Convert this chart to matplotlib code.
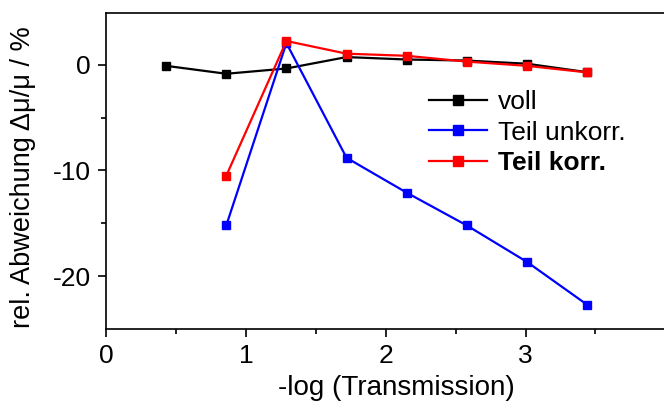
import numpy as np
import matplotlib.pyplot as plt

plt.rcParams['font.family'] = ['Liberation Sans', 'DejaVu Sans']
plt.rcParams['axes.unicode_minus'] = False

# -log(Transmission)
x_voll = [0.43, 0.86, 1.29, 1.72, 2.15, 2.58, 3.01, 3.44]
y_voll = [-0.1, -0.85, -0.35, 0.73, 0.5, 0.4, 0.1, -0.7]

x_teil = [0.86, 1.29, 1.72, 2.15, 2.58, 3.01, 3.44]
y_unkorr = [-15.2, 2.05, -8.8, -12.1, -15.2, -18.65, -22.7]
y_korr = [-10.5, 2.25, 1.05, 0.85, 0.3, -0.1, -0.72]

fig = plt.figure(figsize=(6.64, 4.12), dpi=100)
ax = fig.add_axes([106/664, 83/412, 558/664, 316/412])

ax.plot(x_voll, y_voll, color='black', marker='s', ms=5.5, lw=1.6, label='voll')
ax.plot(x_teil, y_unkorr, color='blue', marker='s', ms=5.5, lw=1.6, label='Teil unkorr.')
ax.plot(x_teil, y_korr, color='red', marker='s', ms=5.5, lw=1.6, label='Teil korr.')

ax.set_xlim(0, 3.99)
ax.set_ylim(-25, 4.9)
ax.set_xticks([0, 1, 2, 3])
ax.set_xticks([0.5, 1.5, 2.5, 3.5], minor=True)
ax.set_yticks([-20, -10, 0])
ax.set_yticks([-15, -5], minor=True)
ax.tick_params(which='major', direction='out', length=6, width=1.2, labelsize=19, pad=5)
ax.tick_params(which='minor', direction='out', length=3.5, width=1.2)
ax.spines['right'].set_visible(False)
for s in ['left', 'bottom', 'top']:
    ax.spines[s].set_linewidth(1.2)

ax.set_xlabel('-log (Transmission)', fontsize=20)
ax.xaxis.set_label_coords(0.52, -0.145)
ax.set_ylabel('rel. Abweichung \u0394\u03bc/\u03bc / %', fontsize=19.5)
ax.yaxis.set_label_coords(-0.125, 0.48)

leg = ax.legend(loc='upper left', bbox_to_anchor=(0.56, 0.79), frameon=False,
                fontsize=19, markerscale=1.3, handlelength=2.2, handletextpad=0.4,
                labelspacing=0.25, borderaxespad=0)
leg.get_texts()[2].set_fontweight('bold')

fig.savefig('out.png', dpi=100)
